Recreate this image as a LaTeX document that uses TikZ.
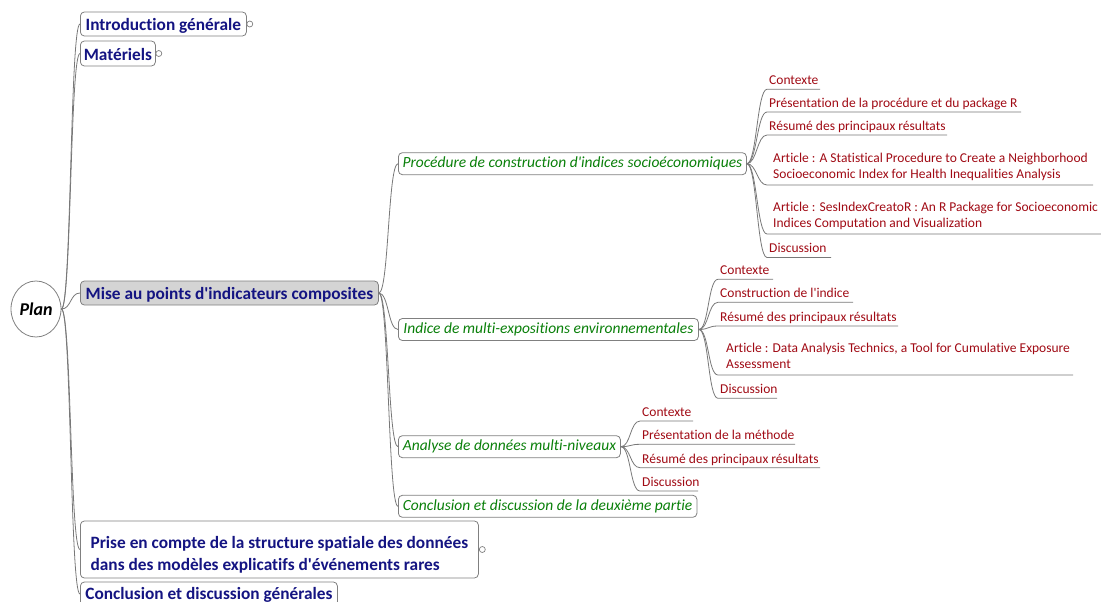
\documentclass[tikz,border=0pt]{standalone}
\usepackage{fontspec}
\setmainfont{Carlito}[Ligatures={NoCommon}]
\usetikzlibrary{shapes.geometric}
\definecolor{navy}{RGB}{20,20,130}
\definecolor{leafred}{RGB}{160,10,20}
\definecolor{lvgreen}{RGB}{10,128,10}
\definecolor{boxgray}{RGB}{128,128,128}
\definecolor{linegray}{RGB}{120,120,120}
\definecolor{misefill}{RGB}{212,212,212}
\newcommand{\q}{\textquotesingle}
\begin{document}
\begin{tikzpicture}[x=1pt,y=-1pt,
  root/.style={ellipse, draw=boxgray, line width=0.8pt, fill=white, minimum width=50pt, minimum height=56pt, inner sep=0pt, font=\fontsize{18}{20}\selectfont\bfseries\itshape},
  topic/.style={rectangle, rounded corners=4pt, draw=boxgray, line width=0.8pt, fill=white, text=navy, font=\fontsize{17.3}{22}\selectfont\bfseries, inner sep=0pt, anchor=west, text height=14.5pt, text depth=1pt},
  sub/.style={rectangle, rounded corners=4pt, draw=boxgray, line width=0.8pt, fill=white, text=lvgreen, font=\fontsize{15.5}{18}\selectfont\itshape, inner sep=0pt, anchor=west, minimum height=22pt},
  leaf/.style={anchor=south west, text=leafred, font=\fontsize{13.5}{16.5}\selectfont, inner xsep=2pt, inner ysep=1.5pt, text depth=3pt, align=left},
  article/.style={leaf, inner ysep=3pt},
  conn/.style={draw=linegray, line width=0.8pt},
  knob/.style={circle, draw=boxgray, fill=white, line width=0.7pt, minimum size=6pt, inner sep=0pt},
]
\useasboundingbox (0,0) rectangle (1101,602);

% root
\node[root] (root) at (36,309) {Plan};

% level 1
\node[topic, minimum width=166pt, minimum height=24pt] (intro) at (80,24) {Introduction générale};
\node[topic, minimum width=75pt, minimum height=25pt] (mat) at (80,53.5) {Matériels};
\node[topic, fill=misefill, minimum width=298pt, minimum height=24pt] (mise) at (80,293) {Mise au points d\q indicateurs composites};
\node[topic, minimum width=398pt, minimum height=57pt, align=left, text height=43pt, text depth=1.5pt] (prise) at (80,549.5) {Prise en compte de la structure spatiale des données\\dans des modèles explicatifs d\q événements rares};
\node[topic, minimum width=257pt, minimum height=24pt, text height=13pt, text depth=2.5pt] (concl) at (80,594) {Conclusion et discussion générales};

\node[knob] (introK) at ([xshift=3pt]intro.east) {};
\node[knob] (matK) at ([xshift=3pt]mat.east) {};
\node[knob] (priseK) at ([xshift=3.5pt]prise.east) {};

% level 2
\node[sub, minimum width=348pt] (proc) at (398,163.7) {Procédure de construction d\q indices socioéconomiques};
\node[sub, minimum width=300pt] (indice) at (398,329.5) {Indice de multi-expositions environnementales};
\node[sub, minimum width=222pt] (analyse) at (398,446.7) {Analyse de données multi-niveaux};
\node[sub, minimum width=298.5pt] (conc2) at (398,506.3) {Conclusion et discussion de la deuxième partie};

% leaves of proc
\node[leaf] (p1) at (767,89.3) {Contexte};
\node[leaf] (p2) at (767,112) {Présentation de la procédure et du package R};
\node[leaf] (p3) at (767,135) {Résumé des principaux résultats};
\node[article, inner xsep=6pt] (p4) at (767,185) {Article : A Statistical Procedure to Create a Neighborhood\\Socioeconomic Index for Health Inequalities Analysis};
\node[article, inner xsep=6pt] (p5) at (767,234) {Article : SesIndexCreatoR : An R Package for Socioeconomic\\Indices Computation and Visualization};
\node[leaf] (p6) at (767,257.5) {Discussion};

% leaves of indice
\node[leaf] (i1) at (718,279.3) {Contexte};
\node[leaf] (i2) at (718,302.3) {Construction de l\q indice};
\node[leaf] (i3) at (718,326) {Résumé des principaux résultats};
\node[article, inner xsep=8pt] (i4) at (718,375) {Article : Data Analysis Technics, a Tool for Cumulative Exposure\\Assessment};
\node[leaf] (i5) at (718,398.3) {Discussion};

% leaves of analyse
\node[leaf] (a1) at (640,421) {Contexte};
\node[leaf] (a2) at (640,444.3) {Présentation de la méthode};
\node[leaf] (a3) at (640,467.7) {Résumé des principaux résultats};
\node[leaf] (a4) at (640,491) {Discussion};

% connectors root -> level 1
\foreach \t in {intro,mat,mise,prise,concl}
  \draw[conn] (root.east) .. controls +(10,0) and +(-10,0) .. (\t.west);

% connectors mise -> level 2
\foreach \t in {proc,indice,analyse,conc2}
  \draw[conn] (mise.east) .. controls +(10,0) and +(-10,0) .. (\t.west);

% connectors to leaves with underline
\foreach \t/\l in {p1/53,p2/254,p3/180,p4/326,p5/340,p6/64}
  \draw[conn] (proc.east) .. controls +(10,0) and +(-10,0) .. (\t.south west) -- ++(\l,0);
\foreach \t/\l in {i1/55,i2/135,i3/180,i4/355,i5/59}
  \draw[conn] (indice.east) .. controls +(10,0) and +(-10,0) .. (\t.south west) -- ++(\l,0);
\foreach \t/\l in {a1/53,a2/155,a3/180,a4/58}
  \draw[conn] (analyse.east) .. controls +(10,0) and +(-10,0) .. (\t.south west) -- ++(\l,0);
\end{tikzpicture}
\end{document}
